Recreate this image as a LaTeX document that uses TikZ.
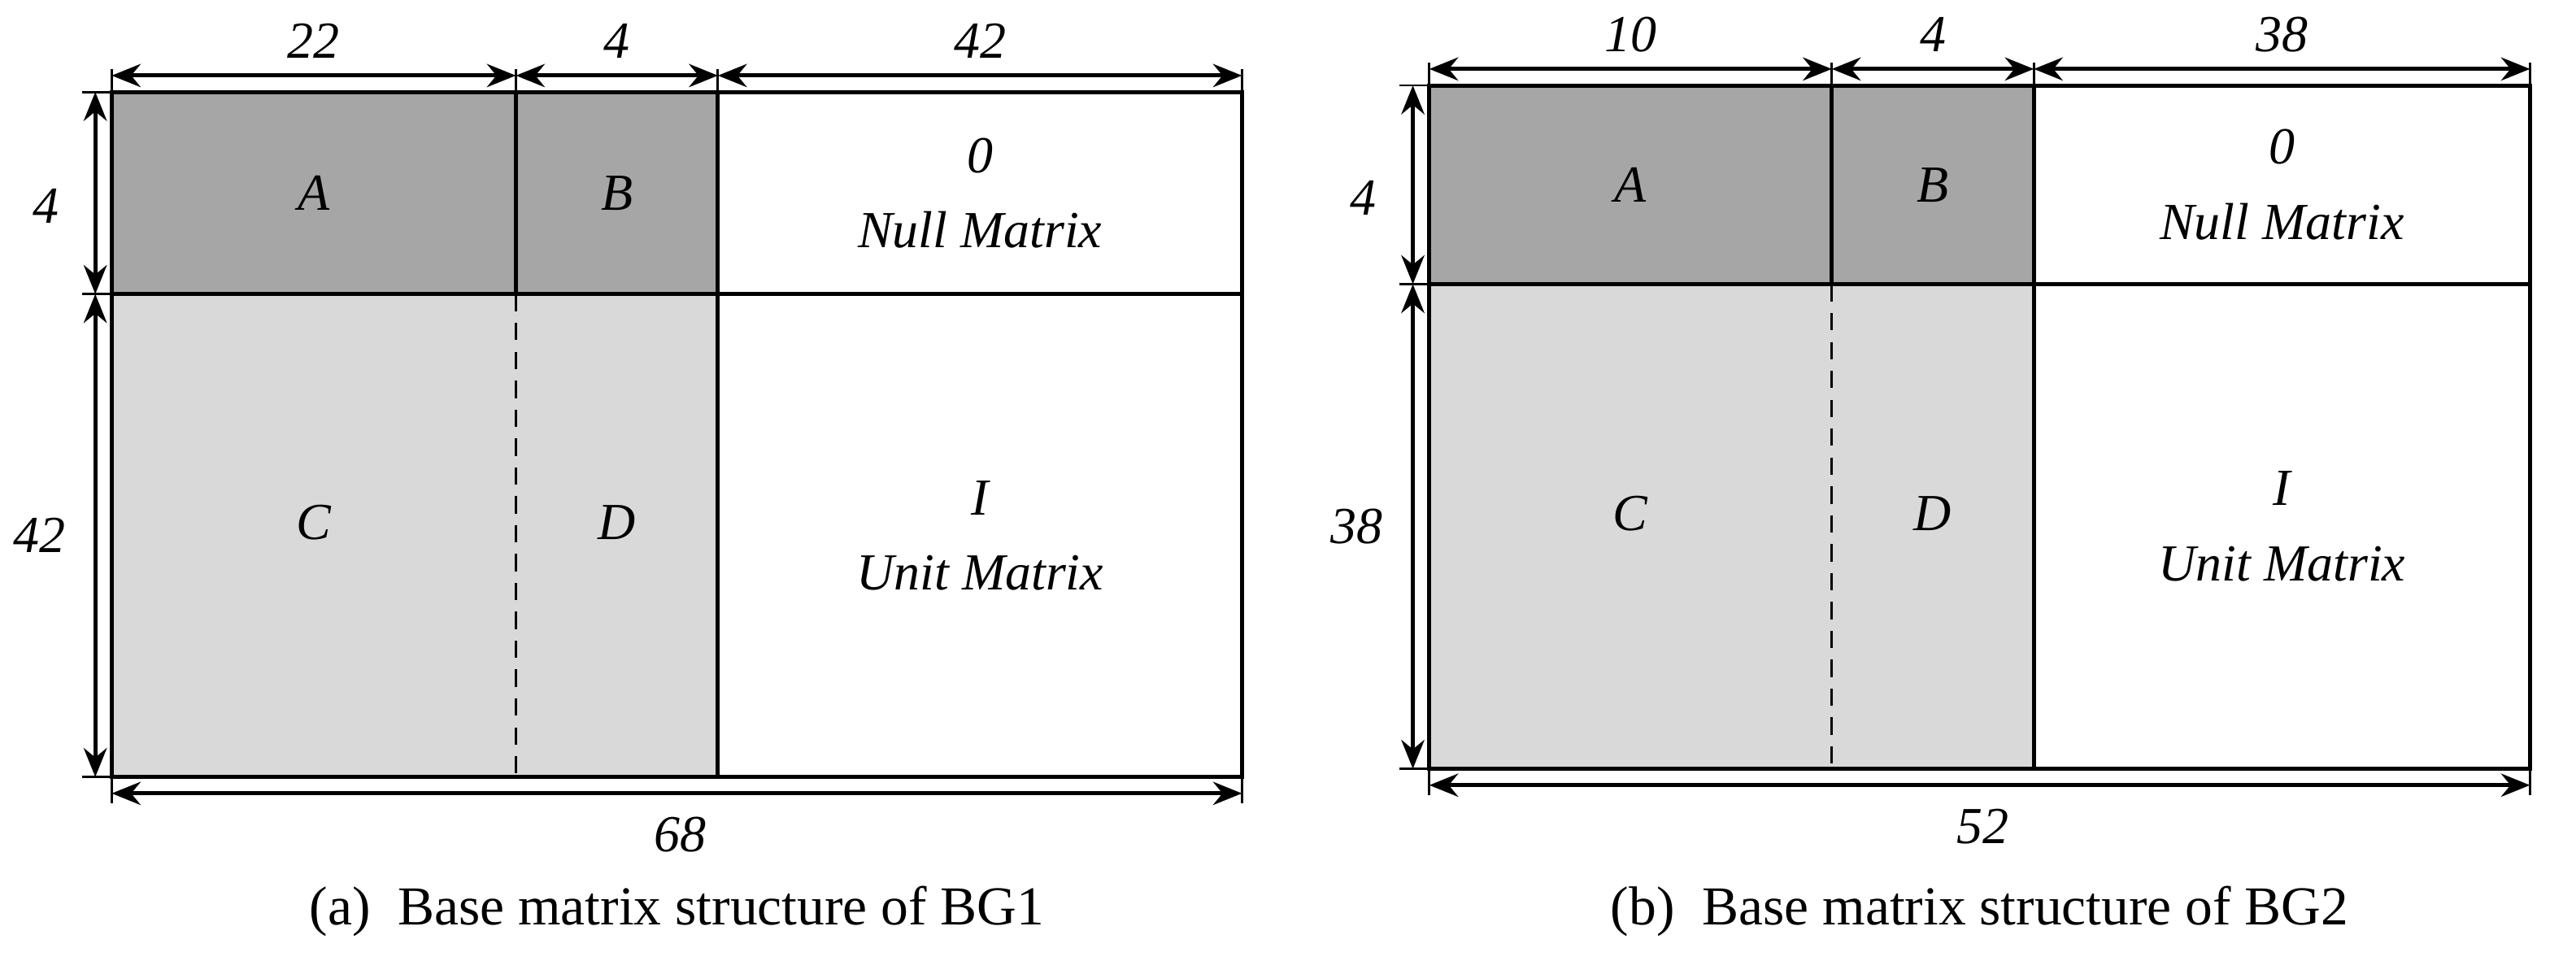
\documentclass[tikz,border=0pt]{standalone}
\usepackage{fontspec}
\setmainfont{Liberation Serif}
\usetikzlibrary{arrows.meta}
\begin{document}
\begin{tikzpicture}[x=0.01cm,y=-0.01cm,
  dim/.style={{Stealth[length=5pt,width=4pt]}-{Stealth[length=5pt,width=4pt]},line width=0.7pt},
  lbl/.style={font=\fontsize{9}{11}\selectfont\itshape,inner sep=0pt},
  capt/.style={font=\fontsize{9.5}{11}\selectfont,inner sep=0pt},
  dark/.style={fill=black!35},
  light/.style={fill=black!15}]
\useasboundingbox (0,0) rectangle (1568,585);
\foreach \X/\Y/\R/\B/\Sa/\Sb/\Sy/\Na/\Nb/\Nc/\Nl/\Nt/\Cap in
 {68/56/756/473/314/437/179/22/42/68/42/4/{(a)\ \ Base matrix structure of BG1},
  870/52/1540/468/1115/1238/173/10/38/52/38/4/{(b)\ \ Base matrix structure of BG2}}{
  \fill[dark] (\X,\Y) rectangle (\Sb,\Sy);
  \fill[light] (\X,\Sy) rectangle (\Sb,\B);
  \draw[line width=0.7pt] (\X,\Y) rectangle (\R,\B);
  \draw[line width=0.7pt] (\X,\Sy) -- (\R,\Sy);
  \draw[line width=0.7pt] (\Sa,\Y) -- (\Sa,\Sy);
  \draw[line width=0.7pt] (\Sb,\Y) -- (\Sb,\B);
  \draw[densely dashed,line width=0.4pt] (\Sa,\Sy) -- (\Sa,\B);
  \draw[line width=0.4pt] (\X,\Y) -- (\X,\Y-14) (\Sa,\Y) -- (\Sa,\Y-14) (\Sb,\Y) -- (\Sb,\Y-14) (\R,\Y) -- (\R,\Y-14);
  \draw[line width=0.4pt] (\X,\B) -- (\X,\B+16) (\R,\B) -- (\R,\B+16);
  \draw[line width=0.4pt] (\X,\Y) -- (\X-18,\Y) (\X,\Sy) -- (\X-18,\Sy) (\X,\B) -- (\X-18,\B);
  \coordinate (t0) at (\X,\Y-10); \coordinate (t1) at (\Sa,\Y-10);
  \coordinate (t2) at (\Sb,\Y-10); \coordinate (t3) at (\R,\Y-10);
  \draw[dim] (t0) -- (t1);
  \draw[dim] (t1) -- (t2);
  \draw[dim] (t2) -- (t3);
  \node[lbl] (n1) at ({(\X+\Sa)/2},\Y-31) {\Na};
  \node[lbl] (n2) at ({(\Sa+\Sb)/2},\Y-31) {4};
  \node[lbl] (n3) at ({(\Sb+\R)/2},\Y-31) {\Nb};
  \coordinate (l0) at (\X-10,\Y); \coordinate (l1) at (\X-10,\Sy); \coordinate (l2) at (\X-10,\B);
  \draw[dim] (l0) -- (l1);
  \draw[dim] (l1) -- (l2);
  \node[lbl] (n4) at (\X-40,{(\Y+\Sy)/2+8}) {\Nt};
  \node[lbl] (n5) at (\X-44,{(\Sy+\B)/2}) {\Nl};
  \coordinate (b0) at (\X,\B+10); \coordinate (b1) at (\R,\B+10);
  \draw[dim] (b0) -- (b1);
  \node[lbl] (n6) at ({(\X+\R)/2+2},\B+35) {\Nc};
  \node[lbl] (A) at ({(\X+\Sa)/2},{(\Y+\Sy)/2}) {A};
  \node[lbl] (Bn) at ({(\Sa+\Sb)/2},{(\Y+\Sy)/2}) {B};
  \node[lbl,align=center] (Z) at ({(\Sb+\R)/2},{(\Y+\Sy)/2}) {0\\[2pt]Null Matrix};
  \node[lbl] (C) at ({(\X+\Sa)/2},{(\Sy+\B)/2-8}) {C};
  \node[lbl] (D) at ({(\Sa+\Sb)/2},{(\Sy+\B)/2-8}) {D};
  \node[lbl,align=center] (I) at ({(\Sb+\R)/2},{(\Sy+\B)/2}) {I\\[2pt]Unit Matrix};
  \node[capt] (cp) at ({(\X+\R)/2},555) {\Cap};
}
\end{tikzpicture}
\end{document}
